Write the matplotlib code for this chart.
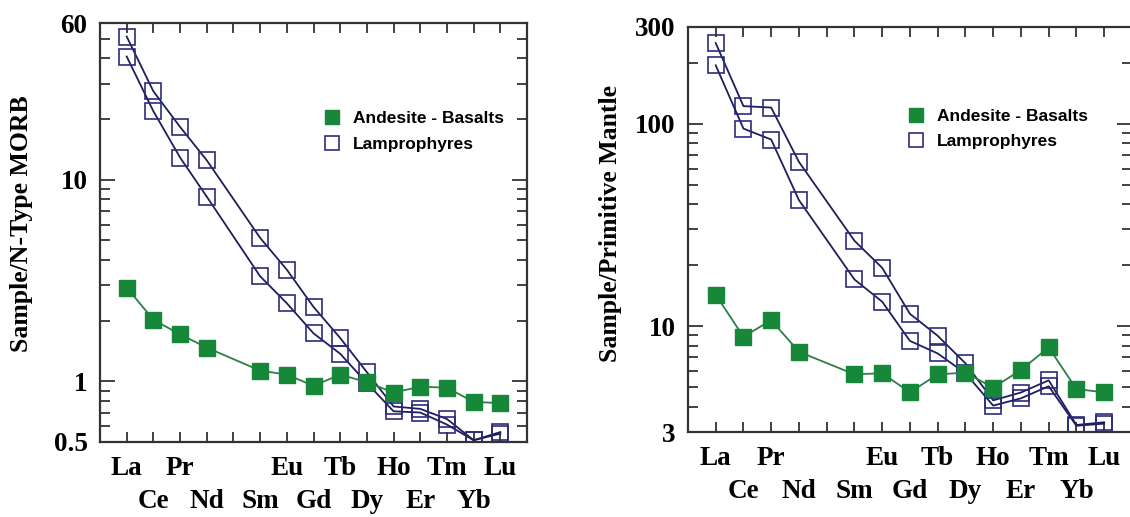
import matplotlib
matplotlib.use('Agg')
import matplotlib.pyplot as plt
from matplotlib.ticker import LogLocator, NullFormatter, FixedLocator
from matplotlib.lines import Line2D

elements = ['La', 'Ce', 'Pr', 'Nd', 'Pm', 'Sm', 'Eu', 'Gd', 'Tb', 'Dy', 'Ho', 'Er', 'Tm', 'Yb', 'Lu']
ree = ['La', 'Ce', 'Pr', 'Nd', 'Sm', 'Eu', 'Gd', 'Tb', 'Dy', 'Ho', 'Er', 'Tm', 'Yb', 'Lu']

# N-type MORB normalised
andesite_morb = [2.92, 2.02, 1.71, 1.47, 1.13, 1.08, 0.95, 1.08, 0.99, 0.88, 0.94, 0.93, 0.79, 0.78]
lamp1_morb = [51.4, 27.5, 18.3, 12.5, 5.15, 3.58, 2.34, 1.64, 1.11, 0.75, 0.73, 0.65, 0.51, 0.56]
lamp2_morb = [40.9, 21.9, 12.9, 8.25, 3.32, 2.44, 1.73, 1.37, 0.98, 0.71, 0.70, 0.61, 0.51, 0.55]

# primitive mantle normalised
andesite_pm = [14.3, 8.86, 10.7, 7.47, 5.78, 5.85, 4.71, 5.78, 5.89, 4.97, 6.07, 7.85, 4.89, 4.71]
lamp1_pm = [250, 122, 120, 64.7, 26.4, 19.4, 11.5, 8.96, 6.55, 4.3, 4.7, 5.4, 3.25, 3.35]
lamp2_pm = [194, 94.5, 83.4, 41.9, 17.0, 13.2, 8.45, 7.33, 5.85, 4.05, 4.4, 5.05, 3.22, 3.3]

green = '#17873a'
green_line = '#2f7d45'
navy = '#2b2b7a'
navy_line = '#1e1e5e'
serif = 'Liberation Serif'

x = [elements.index(e) for e in ree]

fig = plt.figure(figsize=(11.3, 5.17), dpi=100)
ax1 = fig.add_axes([0.0885, 0.1451, 0.3779, 0.8104])
ax2 = fig.add_axes([0.6088, 0.1644, 0.3929, 0.7834])


def draw(ax, andesite, lamp1, lamp2, ylim, yticks, ylabel, lab_xy, leg_xy):
    ax.plot(x, andesite, color=green_line, lw=1.3, marker='s', ms=11,
            mfc=green, mec=green, zorder=3)
    for s in (lamp1, lamp2):
        ax.plot(x, s, color=navy_line, lw=1.3, marker='s', ms=11.5, mfc='none',
                mec=navy, mew=1.2, zorder=2)
    ax.set_yscale('log')
    ax.set_ylim(*ylim)
    ax.set_xlim(-1, 15)
    ax.yaxis.set_major_locator(FixedLocator(yticks))
    ax.set_yticklabels([('%g' % t) for t in yticks], fontfamily=serif,
                       fontweight='bold', fontsize=19.5)
    ax.yaxis.set_minor_locator(LogLocator(subs=range(2, 10)))
    ax.yaxis.set_minor_formatter(NullFormatter())
    ax.set_xticks(range(0, 15, 2))
    ax.set_xticklabels([elements[i] if elements[i] != 'Pm' else '' for i in range(0, 15, 2)],
                       fontfamily=serif, fontweight='bold', fontsize=19.5)
    ax.set_xticks(range(1, 15, 2), minor=True)
    ax.set_xticklabels([elements[i] for i in range(1, 15, 2)], minor=True,
                       fontfamily=serif, fontweight='bold', fontsize=19.5)
    ax.tick_params(axis='x', which='both', direction='in', top=True, length=7, width=1.3,
                   color='#333333')
    ax.tick_params(axis='x', which='major', pad=10)
    ax.tick_params(axis='x', which='minor', pad=34)
    ax.tick_params(axis='y', which='both', direction='in', right=True, width=1.3,
                   color='#333333', pad=9)
    ax.tick_params(axis='y', which='major', length=11)
    ax.tick_params(axis='y', which='minor', length=7)
    for sp in ax.spines.values():
        sp.set_linewidth(1.6)
        sp.set_color('#333333')
    ax.set_ylabel(ylabel, fontfamily=serif, fontweight='bold', fontsize=18.5)
    ax.yaxis.set_label_coords(*lab_xy)
    handles = [Line2D([], [], ls='none', marker='s', ms=10, mfc=green, mec=green),
               Line2D([], [], ls='none', marker='s', ms=10, mfc='none', mec=navy, mew=1.2)]
    ax.legend(handles, ['Andesite - Basalts', 'Lamprophyres'], loc='upper left',
              bbox_to_anchor=leg_xy, frameon=False, borderpad=0, handlelength=1,
              handletextpad=0.7, labelspacing=0.6,
              prop={'family': 'Liberation Sans', 'weight': 'bold', 'size': 12.5})


draw(ax1, andesite_morb, lamp1_morb, lamp2_morb, (0.5, 60), [0.5, 1, 10, 60],
     'Sample/N-Type MORB', (-0.157, 0.52), (0.503, 0.81))
draw(ax2, andesite_pm, lamp1_pm, lamp2_pm, (3, 300), [3, 10, 100, 300],
     'Sample/Primitive Mantle', (-0.149, 0.516), (0.474, 0.82))

fig.savefig('out.png', dpi=100)
